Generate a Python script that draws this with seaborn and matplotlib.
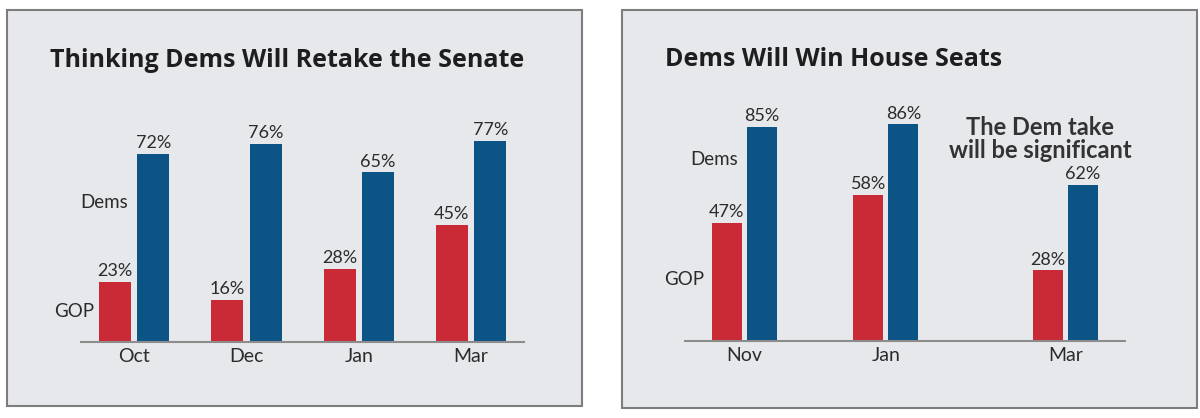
import pandas as pd
import matplotlib.pyplot as plt
import matplotlib.patches as patches
import seaborn as sns

# values
senate_months = ["Oct", "Dec", "Jan", "Mar"]
senate_gop = [23, 16, 28, 45]
senate_dems = [72, 76, 65, 77]

house_months = ["Nov", "Jan", "Mar"]
house_gop = [47, 58, 28]
house_dems = [85, 86, 62]

parties = ["GOP", "Dems"]
party_colors = {"GOP": "#c92a36", "Dems": "#0c5386"}
panel_bg = "#e6e8eb"
text_color = "#2b2b2b"

sns.set_theme(style="white")
plt.rcParams["font.family"] = ["Lato", "DejaVu Sans"]

W, H = 1200, 418
title_font = ["Open Sans", "DejaVu Sans"]


def long_df(months, gop, dems):
    return pd.DataFrame({
        "month": months * 2,
        "party": ["GOP"] * len(months) + ["Dems"] * len(months),
        "value": list(gop) + list(dems),
    })


def px_axes(fig, x0, x1, y_base, px_per_unit):
    # pixel box -> figure fraction, y range 0..100
    h = px_per_unit * 100
    return fig.add_axes([x0 / W, (H - y_base) / H, (x1 - x0) / W, h / H])


def style_axes(ax):
    ax.set_facecolor("none")
    for s in ["top", "right", "left"]:
        ax.spines[s].set_visible(False)
    ax.spines["bottom"].set_color("#8c8c8c")
    ax.spines["bottom"].set_linewidth(1.5)
    ax.set_yticks([])
    ax.set_ylim(0, 100)
    ax.set_xlabel("")
    ax.set_ylabel("")
    ax.tick_params(axis="x", length=0, pad=4, labelsize=14, labelcolor=text_color)
    for c in ax.containers:
        ax.bar_label(c, fmt="%d%%", padding=2, fontsize=13, color=text_color)


fig = plt.figure(figsize=(W / 100, H / 100), dpi=100)
fig.patch.set_facecolor("white")

# panel backgrounds
for x0, x1, y0, y1 in [(7, 582, 10, 406), (622, 1197, 10, 408)]:
    fig.patches.append(patches.Rectangle(
        (x0 / W, (H - y1) / H), (x1 - x0) / W, (y1 - y0) / H,
        transform=fig.transFigure, facecolor=panel_bg,
        edgecolor="#7d7d7d", linewidth=1.5, zorder=-10))

# left panel: Senate
ax1 = px_axes(fig, 81, 524, 342, 2.61)
sns.barplot(data=long_df(senate_months, senate_gop, senate_dems),
            x="month", y="value", hue="party", hue_order=parties,
            palette=party_colors, width=0.685, gap=0.17, legend=False,
            saturation=1, linewidth=0, ax=ax1)
ax1.set_xlim(-0.4715, 3.47)
style_axes(ax1)
ax1.text(-0.053, 53.6, "Dems", ha="right", va="center", fontsize=13.5, color=text_color)
ax1.text(-0.356, 11.5, "GOP", ha="right", va="center", fontsize=13.5, color=text_color)
fig.text(50 / W, (H - 67) / H, "Thinking Dems Will Retake the Senate",
         fontsize=18, fontweight="bold", color="#1e1e1e", va="baseline",
         family=title_font)

# right panel: House (Mar set further apart as in the original)
house_slot = [0, 1, 2.27]
hdf = long_df(house_months, house_gop, house_dems)
hdf["slot"] = hdf["month"].map(dict(zip(house_months, house_slot)))
ax2 = px_axes(fig, 685, 1125, 341, 2.52)
sns.barplot(data=hdf, x="slot", y="value", hue="party", hue_order=parties,
            palette=party_colors, width=0.495, gap=0.14, legend=False,
            saturation=1, linewidth=0, native_scale=True, ax=ax2)
ax2.set_xticks(house_slot, house_months)
ax2.set_xlim(-0.42, 2.69)
style_axes(ax2)
ax2.text(-0.046, 72.2, "Dems", ha="right", va="center", fontsize=13.5, color=text_color)
ax2.text(-0.286, 24.6, "GOP", ha="right", va="center", fontsize=13.5, color=text_color)
ax2.text(2.09, 80, "The Dem take\nwill be significant", ha="center", va="center",
         fontsize=17, fontweight="bold", color="#333333", linespacing=1.0)
fig.text(665 / W, (H - 66) / H, "Dems Will Win House Seats",
         fontsize=18, fontweight="bold", color="#1e1e1e", va="baseline",
         family=title_font)

fig.savefig("out.png", dpi=100)
